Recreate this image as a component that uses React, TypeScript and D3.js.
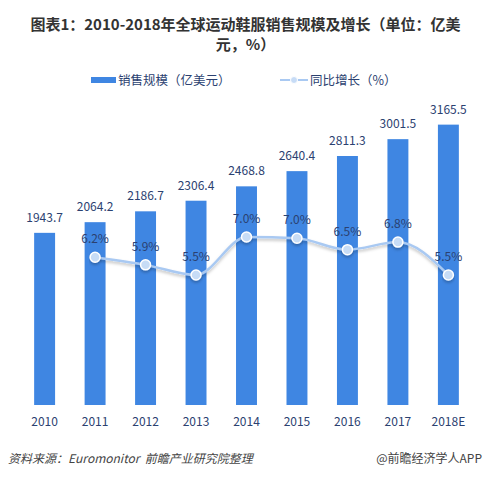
import React from "react";
import * as d3 from "d3";

const categories = ["2010", "2011", "2012", "2013", "2014", "2015", "2016", "2017", "2018E"];
const salesValues = [1943.7, 2064.2, 2186.7, 2306.4, 2468.8, 2640.4, 2811.3, 3001.5, 3165.5];
const growthCategories = ["2011", "2012", "2013", "2014", "2015", "2016", "2017", "2018E"];
const growthValues = [6.2, 5.9, 5.5, 7.0, 6.95, 6.5, 6.8, 5.5];
const growthLabels = ["6.2%", "5.9%", "5.5%", "7.0%", "7.0%", "6.5%", "6.8%", "5.5%"];

const W = 491, H = 477;
const FONT = "'Noto Sans CJK SC', 'Noto Sans', sans-serif";
const BAR = "#3f86e2";
const LABEL = "#2b4170";

export default function App() {
  const x = d3.scaleBand().domain(categories).range([19, 474]).paddingInner(0.585).paddingOuter(0.3);
  const y = d3.scaleLinear().domain([0, 3500]).range([405, 95]);
  const y2 = d3.scaleLinear().domain([5.5, 7.0]).range([275, 237]);
  const cx = (c: string) => (x(c) as number) + x.bandwidth() / 2;
  const pts: [number, number][] = growthCategories.map((c, i) => [cx(c), y2(growthValues[i])]);
  const line = d3.line().curve(d3.curveMonotoneX)(pts) as string;

  return (
    <svg width={W} height={H} style={{ position: "absolute", left: 0, top: 0, background: "#fff" }} fontFamily={FONT}>
      <defs>
        <filter id="sh" x="-10%" y="-50%" width="120%" height="200%">
          <feDropShadow dx="0" dy="2" stdDeviation="1.5" floodColor="#000" floodOpacity="0.25" />
        </filter>
      </defs>
      <text x={W / 2} y={30} textAnchor="middle" fontSize={15} fontWeight="bold" fill="#333">
        图表1：2010-2018年全球运动鞋服销售规模及增长（单位：亿美
      </text>
      <text x={W / 2} y={50} textAnchor="middle" fontSize={15} fontWeight="bold" fill="#333">
        元，%）
      </text>

      <rect x={91} y={77} width={25} height={6} fill={BAR} />
      <text x={118} y={85} fontSize={12.5} fill={LABEL}>销售规模（亿美元）</text>
      <line x1={280} x2={308} y1={80} y2={80} stroke="#a9c9f2" strokeWidth={2} />
      <circle cx={294} cy={80} r={3.5} fill="#c7dcf6" stroke="#fff" strokeWidth={1} />
      <text x={310} y={85} fontSize={12.5} fill={LABEL}>同比增长（%）</text>

      {categories.map((c, i) => (
        <g key={c}>
          <rect x={x(c)} y={y(salesValues[i])} width={x.bandwidth()} height={405 - y(salesValues[i])} fill={BAR} />
          <text x={cx(c)} y={y(salesValues[i]) - 11} textAnchor="middle" fontSize={12} fill={LABEL}>
            {salesValues[i].toFixed(1)}
          </text>
          <text x={cx(c)} y={426} textAnchor="middle" fontSize={12} fill={LABEL}>{c}</text>
        </g>
      ))}

      <path d={line} fill="none" stroke="#a9c9f2" strokeWidth={2.5} filter="url(#sh)" />
      {pts.map((p, i) => (
        <g key={i}>
          <circle cx={p[0]} cy={p[1]} r={5} fill="#c7dcf6" stroke="#fff" strokeWidth={1.5} filter="url(#sh)" />
          <text x={p[0]} y={p[1] - 14} textAnchor="middle" fontSize={12} fill={LABEL}>{growthLabels[i]}</text>
        </g>
      ))}

      <text x={8} y={463} fontSize={12} fontStyle="italic" fill="#444">{"资料来源：Euromonitor\u00a0\u00a0前瞻产业研究院整理"}</text>
      <text x={482} y={463} textAnchor="end" fontSize={12} fill="#444">@前瞻经济学人APP</text>
    </svg>
  );
}
